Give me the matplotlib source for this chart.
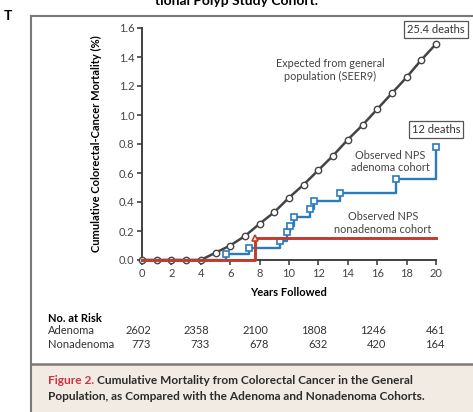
import matplotlib.pyplot as plt
from matplotlib.patches import Rectangle
from matplotlib.lines import Line2D
import matplotlib.transforms as mtransforms

plt.rcParams['font.family'] = ['Lato', 'DejaVu Sans']

# Expected mortality from the general population (SEER9), one point per year
years = list(range(0, 21))
expected = [0, 0, 0, 0, 0, 0.05, 0.10, 0.165, 0.25, 0.33, 0.43, 0.52, 0.62,
            0.72, 0.83, 0.93, 1.04, 1.15, 1.26, 1.38, 1.49]

# Observed NPS adenoma cohort (step function, event times)
adenoma_t = [0, 5.7, 7.3, 9.4, 9.85, 10.05, 10.35, 11.45, 11.7, 13.5, 17.3, 20]
adenoma_v = [0, 0.04, 0.085, 0.13, 0.19, 0.235, 0.295, 0.35, 0.405, 0.46, 0.56, 0.78]

# Observed NPS nonadenoma cohort
nonadenoma_t = [0, 7.7, 20]
nonadenoma_v = [0, 0.15, 0.15]

# Number at risk
risk_years = [0, 4, 8, 12, 16, 20]
risk_adenoma = [2602, 2358, 2100, 1808, 1246, 461]
risk_nonadenoma = [773, 733, 678, 632, 420, 164]

W, H = 473, 412
fig = plt.figure(figsize=(W / 100, H / 100), dpi=100)


def fx(px):
    return px / W


def fy(py):
    return 1 - py / H


GREY = '#444444'
BLUE = '#2a7bbb'
RED = '#c23b2b'

# page furniture: frame, caption panel
fig.add_artist(Line2D([fx(31), fx(31)], [fy(16), 0], color='#7a7a7a', lw=1.5))
fig.add_artist(Line2D([fx(31), 1], [fy(16), fy(16)], color='#7a7a7a', lw=1.5))
fig.add_artist(Rectangle((fx(31), 0), 1 - fx(31), fy(364), facecolor='#f2ebe3',
                         edgecolor='none'))
fig.add_artist(Line2D([fx(31), 1], [fy(364), fy(364)], color='#7a7a7a', lw=1.8))
fig.text(fx(155), fy(1), 'tional Polyp Study Cohort.', fontsize=10, fontweight='bold',
         ha='left', va='center')
fig.text(fx(4), fy(16), 'T', fontsize=10, fontweight='bold', ha='left', va='center')

ax = fig.add_axes([fx(142), fy(260), fx(436) - fx(142), fy(28) - fy(260)])
ax.set_xlim(0, 20)
ax.set_ylim(0, 1.6)

ax.plot(years, expected, color=GREY, lw=1.8, marker='o', ms=4.6, mfc='white',
        mec=GREY, mew=1.0, clip_on=False, zorder=3)
ax.plot(adenoma_t, adenoma_v, color=BLUE, lw=1.7, drawstyle='steps-post',
        clip_on=False, zorder=4)
ax.plot(adenoma_t[1:], adenoma_v[1:], ls='none', marker='s', ms=3.8, mfc='white',
        mec=BLUE, mew=1.2, clip_on=False, zorder=5)
ax.plot(nonadenoma_t, nonadenoma_v, color=RED, lw=2.1, drawstyle='steps-post',
        clip_on=False, zorder=6)
ax.plot(nonadenoma_t[1:2], nonadenoma_v[1:2], ls='none', marker='^', ms=4.8,
        mfc='white', mec=RED, mew=1.2, clip_on=False, zorder=7)

for s in ['top', 'right']:
    ax.spines[s].set_visible(False)
for s in ['left', 'bottom']:
    ax.spines[s].set_color('#333333')
    ax.spines[s].set_linewidth(1.3)

ax.set_xticks(range(0, 21, 2))
ax.set_yticks([0, 0.2, 0.4, 0.6, 0.8, 1.0, 1.2, 1.4, 1.6])
ax.set_yticklabels(['0.0', '0.2', '0.4', '0.6', '0.8', '1.0', '1.2', '1.4', '1.6'])
ax.tick_params(axis='both', length=3.5, width=1.1, color='#333333', labelsize=8,
               labelcolor='#444444', pad=2)
ax.set_xlabel('Years Followed', fontsize=8, fontweight='bold', labelpad=6)
ax.set_ylabel('Cumulative Colorectal-Cancer Mortality (%)', fontsize=8,
              fontweight='bold', labelpad=12)
ax.patch.set_alpha(0)

box = dict(boxstyle='square,pad=0.25', facecolor='white', edgecolor='#555555', lw=0.9)
ax.text(20, 1.59, '25.4 deaths', fontsize=8, ha='center', va='center', bbox=box,
        color='#333333')
ax.text(20, 0.90, '12 deaths', fontsize=8, ha='center', va='center', bbox=box,
        color='#333333')
ax.text(12.8, 1.31, 'Expected from general\npopulation (SEER9)', fontsize=7.8,
        ha='center', va='center', color='#444444', linespacing=1.15)
ax.text(16.9, 0.68, 'Observed NPS\nadenoma cohort', fontsize=7.8, ha='center',
        va='center', color='#444444', linespacing=1.15)
ax.text(16.4, 0.255, 'Observed NPS\nnonadenoma cohort', fontsize=7.8, ha='center',
        va='center', color='#444444', linespacing=1.15)

# number-at-risk table
fig.text(fx(48), fy(318), 'No. at Risk', fontsize=8, fontweight='bold', va='center')
fig.text(fx(48), fy(331), 'Adenoma', fontsize=8, va='center', color='#333333')
fig.text(fx(48), fy(345), 'Nonadenoma', fontsize=8, va='center', color='#333333')
trans = mtransforms.blended_transform_factory(ax.transData, fig.transFigure)
for yr, a, n in zip(risk_years, risk_adenoma, risk_nonadenoma):
    fig.text(yr + 0.6, fy(331), str(a), transform=trans, fontsize=8, ha='right',
             va='center', color='#333333')
    fig.text(yr + 0.6, fy(345), str(n), transform=trans, fontsize=8, ha='right',
             va='center', color='#333333')

# caption
cap1 = fig.text(fx(48), fy(381), 'Figure 2.', fontsize=8.6, fontweight='bold',
                color='#d0323f', va='center')
fig.canvas.draw()
bb = cap1.get_window_extent()
fig.text(bb.x1 / W + fx(3), fy(381),
         'Cumulative Mortality from Colorectal Cancer in the General',
         fontsize=8.6, fontweight='bold', color='#2b2b2b', va='center')
fig.text(fx(48), fy(397), 'Population, as Compared with the Adenoma and Nonadenoma Cohorts.',
         fontsize=8.6, fontweight='bold', color='#2b2b2b', va='center')

fig.savefig('out.png', dpi=100, facecolor='white')
